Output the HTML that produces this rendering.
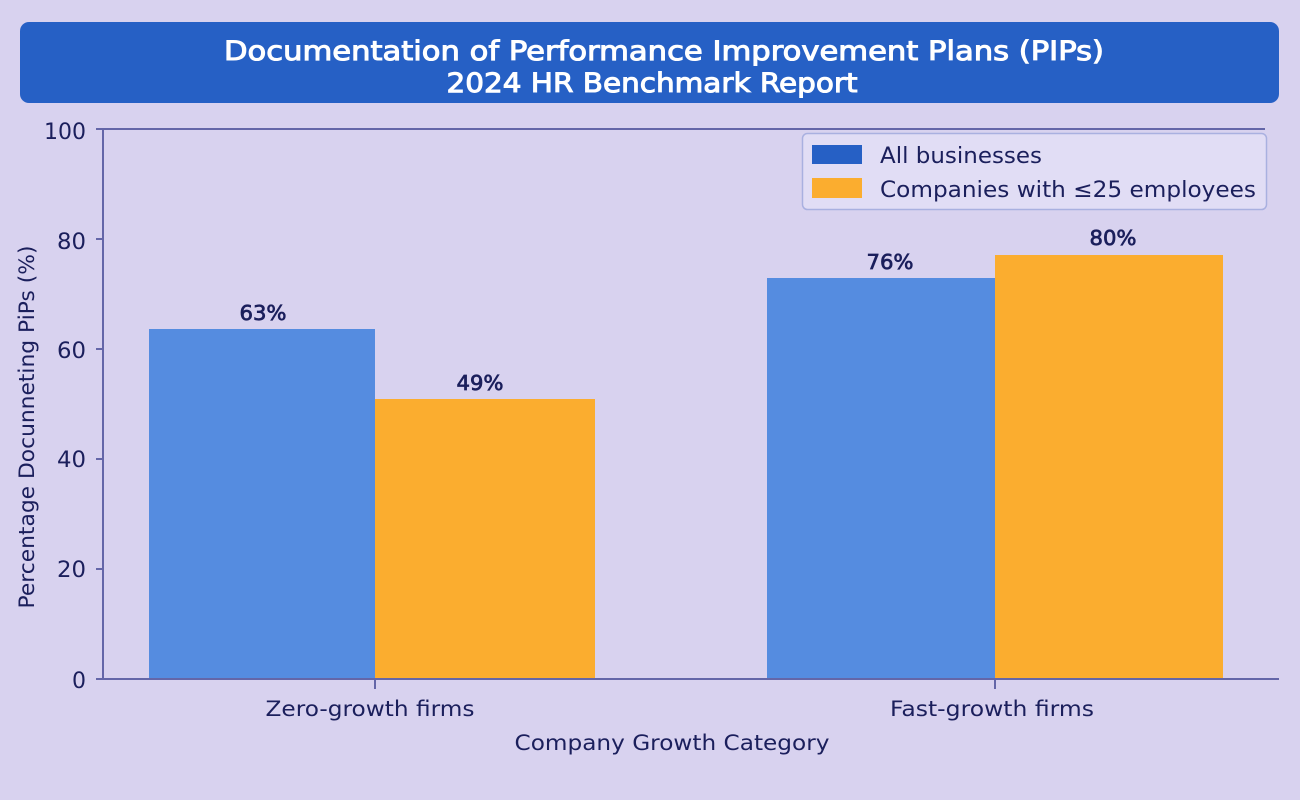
<!DOCTYPE html>
<html>
<head>
<meta charset="utf-8">
<style>
  html,body{margin:0;padding:0;background:#d8d2ef;}
  svg{display:block;}
  text{font-family:"DejaVu Sans","Liberation Sans",sans-serif;}
</style>
</head>
<body>
<svg width="1300" height="800" viewBox="0 0 1300 800" xmlns="http://www.w3.org/2000/svg">
  <rect x="0" y="0" width="1300" height="800" fill="#d8d2ef"/>

  <!-- Title box -->
  <rect x="20" y="22" width="1259" height="81" rx="9" ry="9" fill="#2660c5"/>
  <text x="664" y="60" fill="#ffffff" stroke="#ffffff" stroke-width="1" font-size="27" text-anchor="middle" textLength="880" lengthAdjust="spacingAndGlyphs">Documentation of Performance Improvement Plans (PIPs)</text>
  <text x="652" y="92" fill="#ffffff" stroke="#ffffff" stroke-width="1" font-size="27" text-anchor="middle" textLength="411" lengthAdjust="spacingAndGlyphs">2024 HR Benchmark Report</text>

  <!-- Bars -->
  <rect x="149" y="329" width="226" height="350" fill="#558ce0"/>
  <rect x="375" y="399" width="220" height="280" fill="#fbad2f"/>
  <rect x="767" y="278" width="228" height="401" fill="#558ce0"/>
  <rect x="995" y="255" width="228" height="424" fill="#fbad2f"/>

  <!-- Axes -->
  <line x1="103" y1="129" x2="1265" y2="129" stroke="#6466a8" stroke-width="2"/>
  <line x1="103" y1="128" x2="103" y2="680" stroke="#6466a8" stroke-width="2"/>
  <line x1="103" y1="679" x2="1279" y2="679" stroke="#6466a8" stroke-width="2"/>

  <!-- Ticks -->
  <g stroke="#6466a8" stroke-width="2">
    <line x1="96" y1="129" x2="103" y2="129"/>
    <line x1="96" y1="239" x2="103" y2="239"/>
    <line x1="96" y1="349" x2="103" y2="349"/>
    <line x1="96" y1="459" x2="103" y2="459"/>
    <line x1="96" y1="569" x2="103" y2="569"/>
    <line x1="96" y1="679" x2="103" y2="679"/>
    <line x1="375" y1="679" x2="375" y2="689"/>
    <line x1="995" y1="679" x2="995" y2="689"/>
  </g>

  <g fill="#1b1f5c" font-size="22" text-anchor="end">
    <text x="86" y="139" textLength="42" lengthAdjust="spacingAndGlyphs">100</text>
    <text x="86" y="249" textLength="29" lengthAdjust="spacingAndGlyphs">80</text>
    <text x="86" y="358" textLength="29" lengthAdjust="spacingAndGlyphs">60</text>
    <text x="86" y="467" textLength="29" lengthAdjust="spacingAndGlyphs">40</text>
    <text x="86" y="577" textLength="29" lengthAdjust="spacingAndGlyphs">20</text>
    <text x="86" y="688">0</text>
  </g>

  <!-- Y axis label -->
  <text transform="translate(34,427) rotate(-90)" fill="#1b1f5c" font-size="21" text-anchor="middle" textLength="363" lengthAdjust="spacingAndGlyphs">Percentage Docunneting PiPs (%)</text>

  <!-- X tick labels -->
  <text x="370" y="716" fill="#1b1f5c" font-size="21" text-anchor="middle" textLength="209" lengthAdjust="spacingAndGlyphs">Zero-growth firms</text>
  <text x="992" y="716" fill="#1b1f5c" font-size="21" text-anchor="middle" textLength="204" lengthAdjust="spacingAndGlyphs">Fast-growth firms</text>
  <text x="672" y="750" fill="#1b1f5c" font-size="21" text-anchor="middle" textLength="315" lengthAdjust="spacingAndGlyphs">Company Growth Category</text>

  <!-- Value labels -->
  <g fill="#1b1f5c" stroke="#1b1f5c" stroke-width="0.7" font-size="20" text-anchor="middle">
    <text x="263" y="320" textLength="47" lengthAdjust="spacingAndGlyphs">63%</text>
    <text x="480" y="390" textLength="47" lengthAdjust="spacingAndGlyphs">49%</text>
    <text x="890" y="269" textLength="47" lengthAdjust="spacingAndGlyphs">76%</text>
    <text x="1113" y="245" textLength="47" lengthAdjust="spacingAndGlyphs">80%</text>
  </g>

  <!-- Legend -->
  <rect x="802.5" y="133.5" width="464" height="76" rx="5" ry="5" fill="#e1ddf5" stroke="#a9b0e0" stroke-width="1.5"/>
  <rect x="812" y="145" width="50" height="19" fill="#2660c5"/>
  <rect x="812" y="178" width="50" height="20" fill="#fbad2f"/>
  <text x="880" y="163" fill="#1b1f5c" font-size="22" textLength="162" lengthAdjust="spacingAndGlyphs">All businesses</text>
  <text x="880" y="197" fill="#1b1f5c" font-size="22" textLength="376" lengthAdjust="spacingAndGlyphs">Companies with ≤25 employees</text>
</svg>
</body>
</html>
